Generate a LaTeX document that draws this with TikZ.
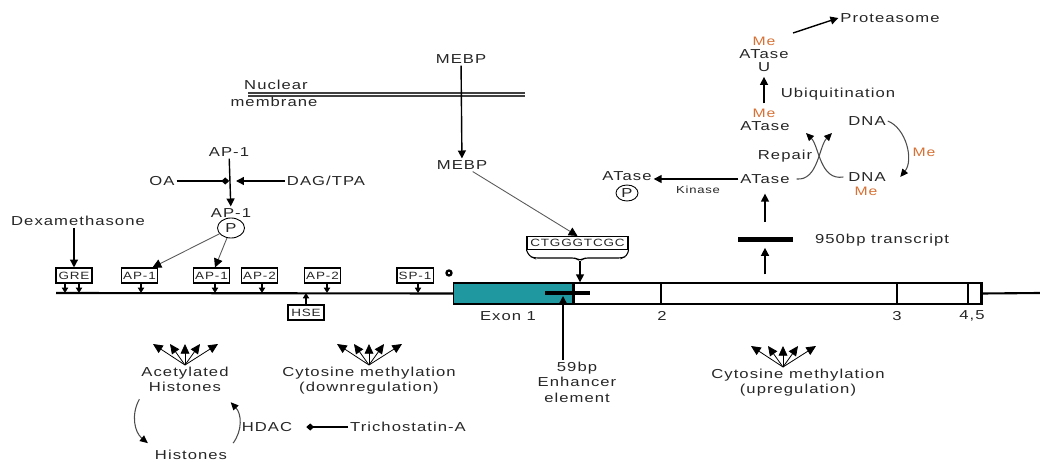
\documentclass[tikz,border=0pt]{standalone}
\usepackage{fontspec}
\setmainfont{Liberation Sans}[FakeStretch=1.28,LetterSpace=8]
\usetikzlibrary{arrows.meta,shapes.geometric,positioning}
\definecolor{exonteal}{RGB}{32,152,160}
\definecolor{meorange}{RGB}{214,112,52}
\tikzset{
  lbl/.style={font=\fontsize{7.4}{8.8}\selectfont,text=black!85,inner sep=1pt,align=center},
  smalllbl/.style={font=\fontsize{5.8}{7}\selectfont,text=black!85,inner sep=1pt},
  melbl/.style={font=\fontsize{7}{8}\selectfont,text=meorange,inner sep=0pt},
  stacklbl/.style={font=\fontsize{7.4}{8.8}\selectfont,text=black!85,inner sep=0pt},
  site/.style={draw,line width=0.6pt,font=\fontsize{6}{7}\selectfont,text=black!85,inner sep=1pt,minimum width=0.72cm,minimum height=0.3cm},
  phos/.style={draw,ellipse,line width=0.5pt,inner sep=0pt,font=\fontsize{7.4}{8}\selectfont,text=black!85},
  arr/.style={line width=0.8pt,-{Triangle[length=4.5pt,width=4.5pt]}},
  tickarr/.style={line width=0.7pt,-{Triangle[length=3pt,width=3.5pt]}},
  inh/.style={line width=0.8pt,-{Diamond[length=4.5pt,width=4pt]}},
  thinarr/.style={line width=0.5pt,black!65,-{Triangle[length=5pt,width=5pt,color=black]}},
  curvarr/.style={line width=0.6pt,black!70,-{Triangle[length=4.5pt,width=4pt,color=black]}},
  fanarr/.style={line width=0.45pt,-{Triangle[length=5.5pt,width=5pt]}},
  memb/.style={line width=0.6pt,black!75},
  gene/.style={line width=1.2pt},
  exb/.style={line width=1.6pt}
}
\begin{document}
\begin{tikzpicture}[x=0.02cm,y=-0.02cm]
\useasboundingbox (0,0) rectangle (1040,462);
% nuclear membrane and MEBP
\coordinate (memL) at (248,93);
\coordinate (memR) at (525,93);
\draw[memb] (memL) -- (memR);
\draw[memb] ([yshift=-0.06cm]memL) -- ([yshift=-0.06cm]memR);
\node[lbl] (nuc) at (276,85) {Nuclear};
\node[lbl] (memtxt) at (274,102) {membrane};
\node[lbl] (mebpout) at (461,59) {MEBP};
\node[lbl] (mebpin) at (462,165) {MEBP};
\draw[arr] (mebpout) -- (mebpin);
\node[site,minimum width=2.02cm,minimum height=0.26cm] (seq) at (577.5,243) {CTGGGTCGC};
\coordinate (seqtip) at (580,261);
\draw[line width=0.6pt,rounded corners=2pt] (seq.south west) -- (529,256) -- (534,258) -- (576,258) -- (seqtip) -- (584,258) -- (622,258) -- (627,256) -- (seq.south east);
\draw[thinarr] (mebpin) -- (seq.north);
% AP-1 activation
\node[lbl] (ap1top) at (229,152) {AP-1};
\node[lbl] (ap1p) at (231,213) {AP-1};
\node[phos,minimum width=0.54cm,minimum height=0.4cm] (p1) at (231,228) {P};
\draw[arr] (ap1top) -- (ap1p);
\node[lbl] (oa) at (162,181) {OA};
\node[lbl] (dag) at (326,181) {DAG/TPA};
\draw[inh,shorten >=1pt] (oa) -- (oa -| ap1p);
\draw[arr,shorten >=0.1cm] (dag) -- (dag -| ap1p);
\node[lbl] (dex) at (78,221) {Dexamethasone};
% promoter sites
\coordinate (gl) at (56,293);
\node[site] (gre) at (74,275.5) {GRE};
\node[site] (ap1a) at (139.5,275.5) {AP-1};
\node[site] (ap1b) at (211.5,275.5) {AP-1};
\node[site] (ap2a) at (259.5,275.5) {AP-2};
\node[site] (ap2b) at (322.5,275.5) {AP-2};
\node[site] (sp1) at (415,275.5) {SP-1};
\node[site] (hse) at (306,312.5) {HSE};
\node[circle,draw,line width=1.3pt,inner sep=0pt,minimum size=0.1cm] (ori) at (449,273) {};
\draw[arr] (dex.south -| gre) -- (gre.north);
\draw[thinarr] (p1) -- ([xshift=0.26cm]ap1a.north);
\draw[thinarr] (p1) -- ([xshift=0.07cm]ap1b.north);
\foreach \n/\s in {gre/-0.18,gre/0.1,ap1a/0.03,ap1b/0.07,ap2a/0.05,ap2b/0.09,sp1/0.06}
  \draw[tickarr] ([xshift=\s cm]\n.south) -- ([xshift=\s cm]\n.south |- gl);
\draw[tickarr] (hse.north) -- (hse.north |- gl);
% gene
\node[draw,line width=0.8pt,fill=exonteal,anchor=west,minimum width=2.38cm,minimum height=0.42cm,inner sep=0pt] (exon1) at (453,293.5) {};
\node[draw,line width=0.8pt,anchor=west,minimum width=8.14cm,minimum height=0.42cm,inner sep=0pt] (exrest) at (exon1.east) {};
\coordinate (tail) at (1040,293);
\draw[gene] (gl) -- (exon1.west);
\draw[gene] (exrest.east) -- (tail);
\foreach \x in {661,897,968}
  \draw[exb] (\x,283) -- (\x,304);
\draw[exb] (exrest.north east) -- (exrest.south east);
\node[lbl] (lex1) at (508,316) {Exon 1};
\node[lbl] (lex2) at (662,316) {2};
\node[lbl] (lex3) at (897,316) {3};
\node[lbl] (lex45) at (972,316) {4,5};
\draw[arr] (seqtip) -- (seqtip |- exon1.north);
\coordinate (enhL) at (545,293);
\coordinate (enhR) at (590,293);
\coordinate (enhpt) at (563,296);
\draw[line width=2.6pt] (enhL) -- (enhR);
\node[lbl] (enhtxt) at (577,382) {59bp\\Enhancer\\element};
\draw[arr] (enhpt |- enhtxt.north) -- (enhpt);
% ATase
\node[lbl,minimum width=1.1cm,minimum height=0.1cm,fill=black,inner sep=0pt] (tr) at (765,240) {};
\node[lbl,anchor=west] (trtxt) at (813,240) {950bp transcript};
\draw[arr] ([yshift=0.16cm]tr |- exrest.north) -- ([yshift=-0.1cm]tr.south);
\node[lbl] (atb) at (765,179) {ATase};
\draw[arr] ([yshift=0.3cm]tr.north) -- ([yshift=-0.16cm]atb.south);
\node[lbl] (atp) at (627,176) {ATase};
\node[phos,minimum width=0.44cm,minimum height=0.32cm] (p2) at (627,193) {P};
\draw[arr] (atb.west) -- (atb.west -| atp.east);
\node[smalllbl] (kin) at (698,190) {Kinase};
\node[lbl] (dna1) at (867,121) {DNA};
\node[lbl] (dna2) at (867,177) {DNA};
\node[melbl] (me2) at (866,191) {Me};
\node[melbl] (me3) at (924,152) {Me};
\draw[curvarr] (dna1.east) .. controls (906,128) and (914,160) .. ([xshift=0.25cm]dna2.east);
\node[lbl] (rep) at (785,156) {Repair};
\coordinate (repL) at (806,133);
\coordinate (repR) at (832,133);
\draw[curvarr] ([xshift=0.1cm]atb.east) .. controls (818,181) and (819,146) .. (repR);
\draw[curvarr] ([xshift=-0.06cm]dna2.west) .. controls (820,181) and (819,146) .. (repL);
\node[melbl] (mem) at (764,113) {Me};
\node[stacklbl] (atm) at (765,126) {ATase};
\node[lbl] (ubq) at (838,94) {Ubiquitination};
\node[melbl] (meu) at (764,41) {Me};
\node[stacklbl] (atu) at (764,54) {ATase};
\node[stacklbl] (uu) at (764,67) {U};
\draw[arr] ([yshift=0.1cm]mem.north) -- ([yshift=-0.1cm]uu.south);
\node[lbl] (prot) at (890,18) {Proteasome};
\coordinate (protst) at (793,33);
\draw[arr] (protst) -- (prot.west);
% histone modification and methylation
\coordinate (fanA) at (185,365);
\coordinate (fanB) at (369,365);
\coordinate (fanC) at (783,367);
\node[lbl,below=0pt of fanA] (acet) {Acetylated\\Histones};
\node[lbl,below=0pt of fanB] (cdown) {Cytosine methylation\\(downregulation)};
\node[lbl,below=0pt of fanC,xshift=0.3cm] (cup) {Cytosine methylation\\(upregulation)};
\foreach \f in {fanA,fanB,fanC}
  \foreach \dx in {-32,-15,0,15,33}
    \draw[fanarr] (\f) -- ++(\dx,-21);
\node[lbl] (hist) at (191,455) {Histones};
\node[lbl] (hdac) at (267,427) {HDAC};
\node[lbl] (tsa) at (408,427) {Trichostatin-A};
\draw[inh,shorten >=0.24cm] (tsa) -- (hdac);
\draw[curvarr] ([yshift=-0.1cm]acet.south west) to[bend right=40] ([xshift=-0.1cm,yshift=0.1cm]hist.north west);
\draw[curvarr] ([xshift=0.08cm,yshift=0.1cm]hist.north east) to[bend right=40] ([yshift=-0.16cm]acet.south east);
\end{tikzpicture}
\end{document}
